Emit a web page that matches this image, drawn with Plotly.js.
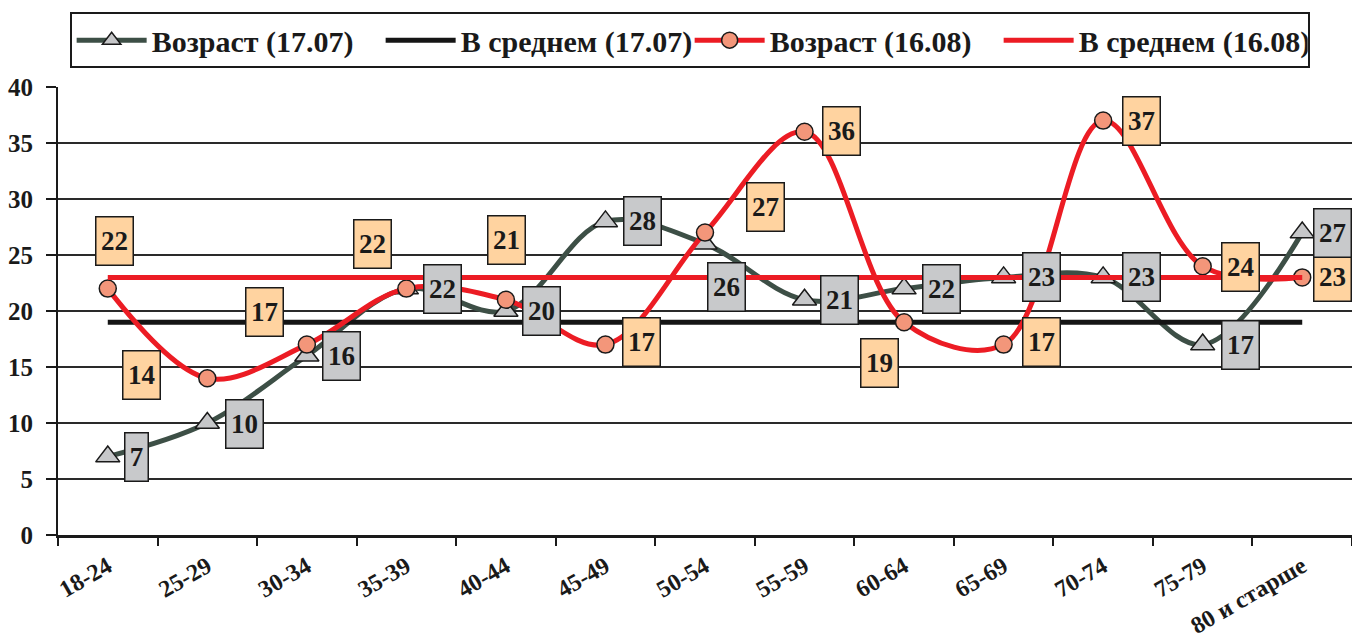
<!DOCTYPE html>
<html>
<head>
<meta charset="utf-8">
<script src="https://cdn.plot.ly/plotly-3.0.1.min.js"></script>
<style>
html,body{margin:0;padding:0;background:#fff;}
#chart{width:1352px;height:641px;}
</style>
</head>
<body>
<div id="chart"></div>
<script>
// ---- data ----
const categories = ["18-24","25-29","30-34","35-39","40-44","45-49","50-54","55-59","60-64","65-69","70-74","75-79","80 и старше"];
const age1707 = [7, 10, 16, 22, 20, 28, 26, 21, 22, 23, 23, 17, 27];
const age1608 = [22, 14, 17, 22, 21, 17, 27, 36, 19, 17, 37, 24, 23];
const avg1707 = 19;
const avg1608 = 23;
const seriesNames = ["Возраст (17.07)", "В среднем (17.07)", "Возраст (16.08)", "В среднем (16.08)"];

// ---- label offsets (px, styling only) ----
const offs1707 = [[29,0],[37,-1],[35,0],[36,0],[36,0],[37,0],[21,-43],[35,0],[37,0],[38,0],[38,0],[38,0],[30,0]];
const offs1608 = [[7,48],[-66,3],[-42,33],[-34,45],[1,60],[36,3],[60,26],[37,1],[-25,-41],[38,3],[38,0],[38,-1],[30,0]];

const FONT = "Liberation Serif";
const INK = "#1a1a1a";
const GRAY_LINE = "#3d4f46";
const RED = "#ec1c24";

const traces = [
  {
    x: categories, y: age1707, name: seriesNames[0], type: "scatter", mode: "lines+markers",
    line: {color: GRAY_LINE, width: 5, shape: "spline", smoothing: 1},
    marker: {symbol: "triangle-up", size: 21, color: "#c6c7c9", line: {color: INK, width: 1.5}}
  },
  {
    x: categories, y: categories.map(() => avg1707), name: seriesNames[1], type: "scatter", mode: "lines",
    line: {color: "#151515", width: 5}
  },
  {
    x: categories, y: age1608, name: seriesNames[2], type: "scatter", mode: "lines+markers",
    line: {color: RED, width: 5, shape: "spline", smoothing: 1},
    marker: {symbol: "circle", size: 17, color: "#f3967a", line: {color: INK, width: 1.5}}
  },
  {
    x: categories, y: categories.map(() => avg1608), name: seriesNames[3], type: "scatter", mode: "lines",
    line: {color: RED, width: 5}
  }
];

const annotations = [];
function addLabels(vals, offs, fill) {
  vals.forEach((v, i) => {
    const t = String(v);
    annotations.push({
      x: categories[i], y: v, xref: "x", yref: "y", text: "<b>" + t + "</b>", showarrow: false,
      xshift: offs[i][0], yshift: offs[i][1],
      width: t.length > 1 ? 36 : 22, height: 47,
      bgcolor: fill, bordercolor: INK, borderwidth: 1.5, borderpad: 0,
      align: "center", valign: "middle",
      font: {family: FONT, size: 27, color: INK}
    });
  });
}
addLabels(age1608, offs1608, "#ffd3a0");
addLabels(age1707, offs1707, "#c8c9cb");

const layout = {
  width: 1352, height: 641,
  margin: {l: 58, r: 0, t: 87, b: 106},
  paper_bgcolor: "#ffffff", plot_bgcolor: "#ffffff",
  font: {family: FONT, color: INK},
  showlegend: true,
  legend: {
    orientation: "h", x: 0.009, y: 1.167, xanchor: "left", yanchor: "top",
    bordercolor: INK, borderwidth: 2, bgcolor: "#ffffff",
    font: {family: FONT, size: 30, color: INK, weight: "bold"},
    itemwidth: 70, traceorder: "normal",
    entrywidthmode: "pixels", entrywidth: 224
  },
  xaxis: {
    type: "category", range: [-0.5, 12.5], tickson: "boundaries",
    showline: true, linecolor: INK, linewidth: 3,
    ticks: "outside", ticklen: 8, tickwidth: 2, tickcolor: INK,
    showgrid: false, zeroline: false, tickangle: -30, ticklabelstandoff: 5,
    tickfont: {family: FONT, size: 24, color: INK, weight: "bold"}
  },
  yaxis: {
    range: [0, 40], dtick: 5, tick0: 0,
    showline: true, linecolor: INK, linewidth: 2,
    ticks: "outside", ticklen: 10, tickwidth: 1.5, tickcolor: INK,
    showgrid: true, gridcolor: "#2a2a2a", gridwidth: 1.5, zeroline: false,
    ticklabelstandoff: 8,
    tickfont: {family: FONT, size: 25, color: INK, weight: "bold"}
  },
  annotations: annotations
};

Plotly.newPlot("chart", traces, layout, {displayModeBar: false, staticPlot: true});
</script>
</body>
</html>
